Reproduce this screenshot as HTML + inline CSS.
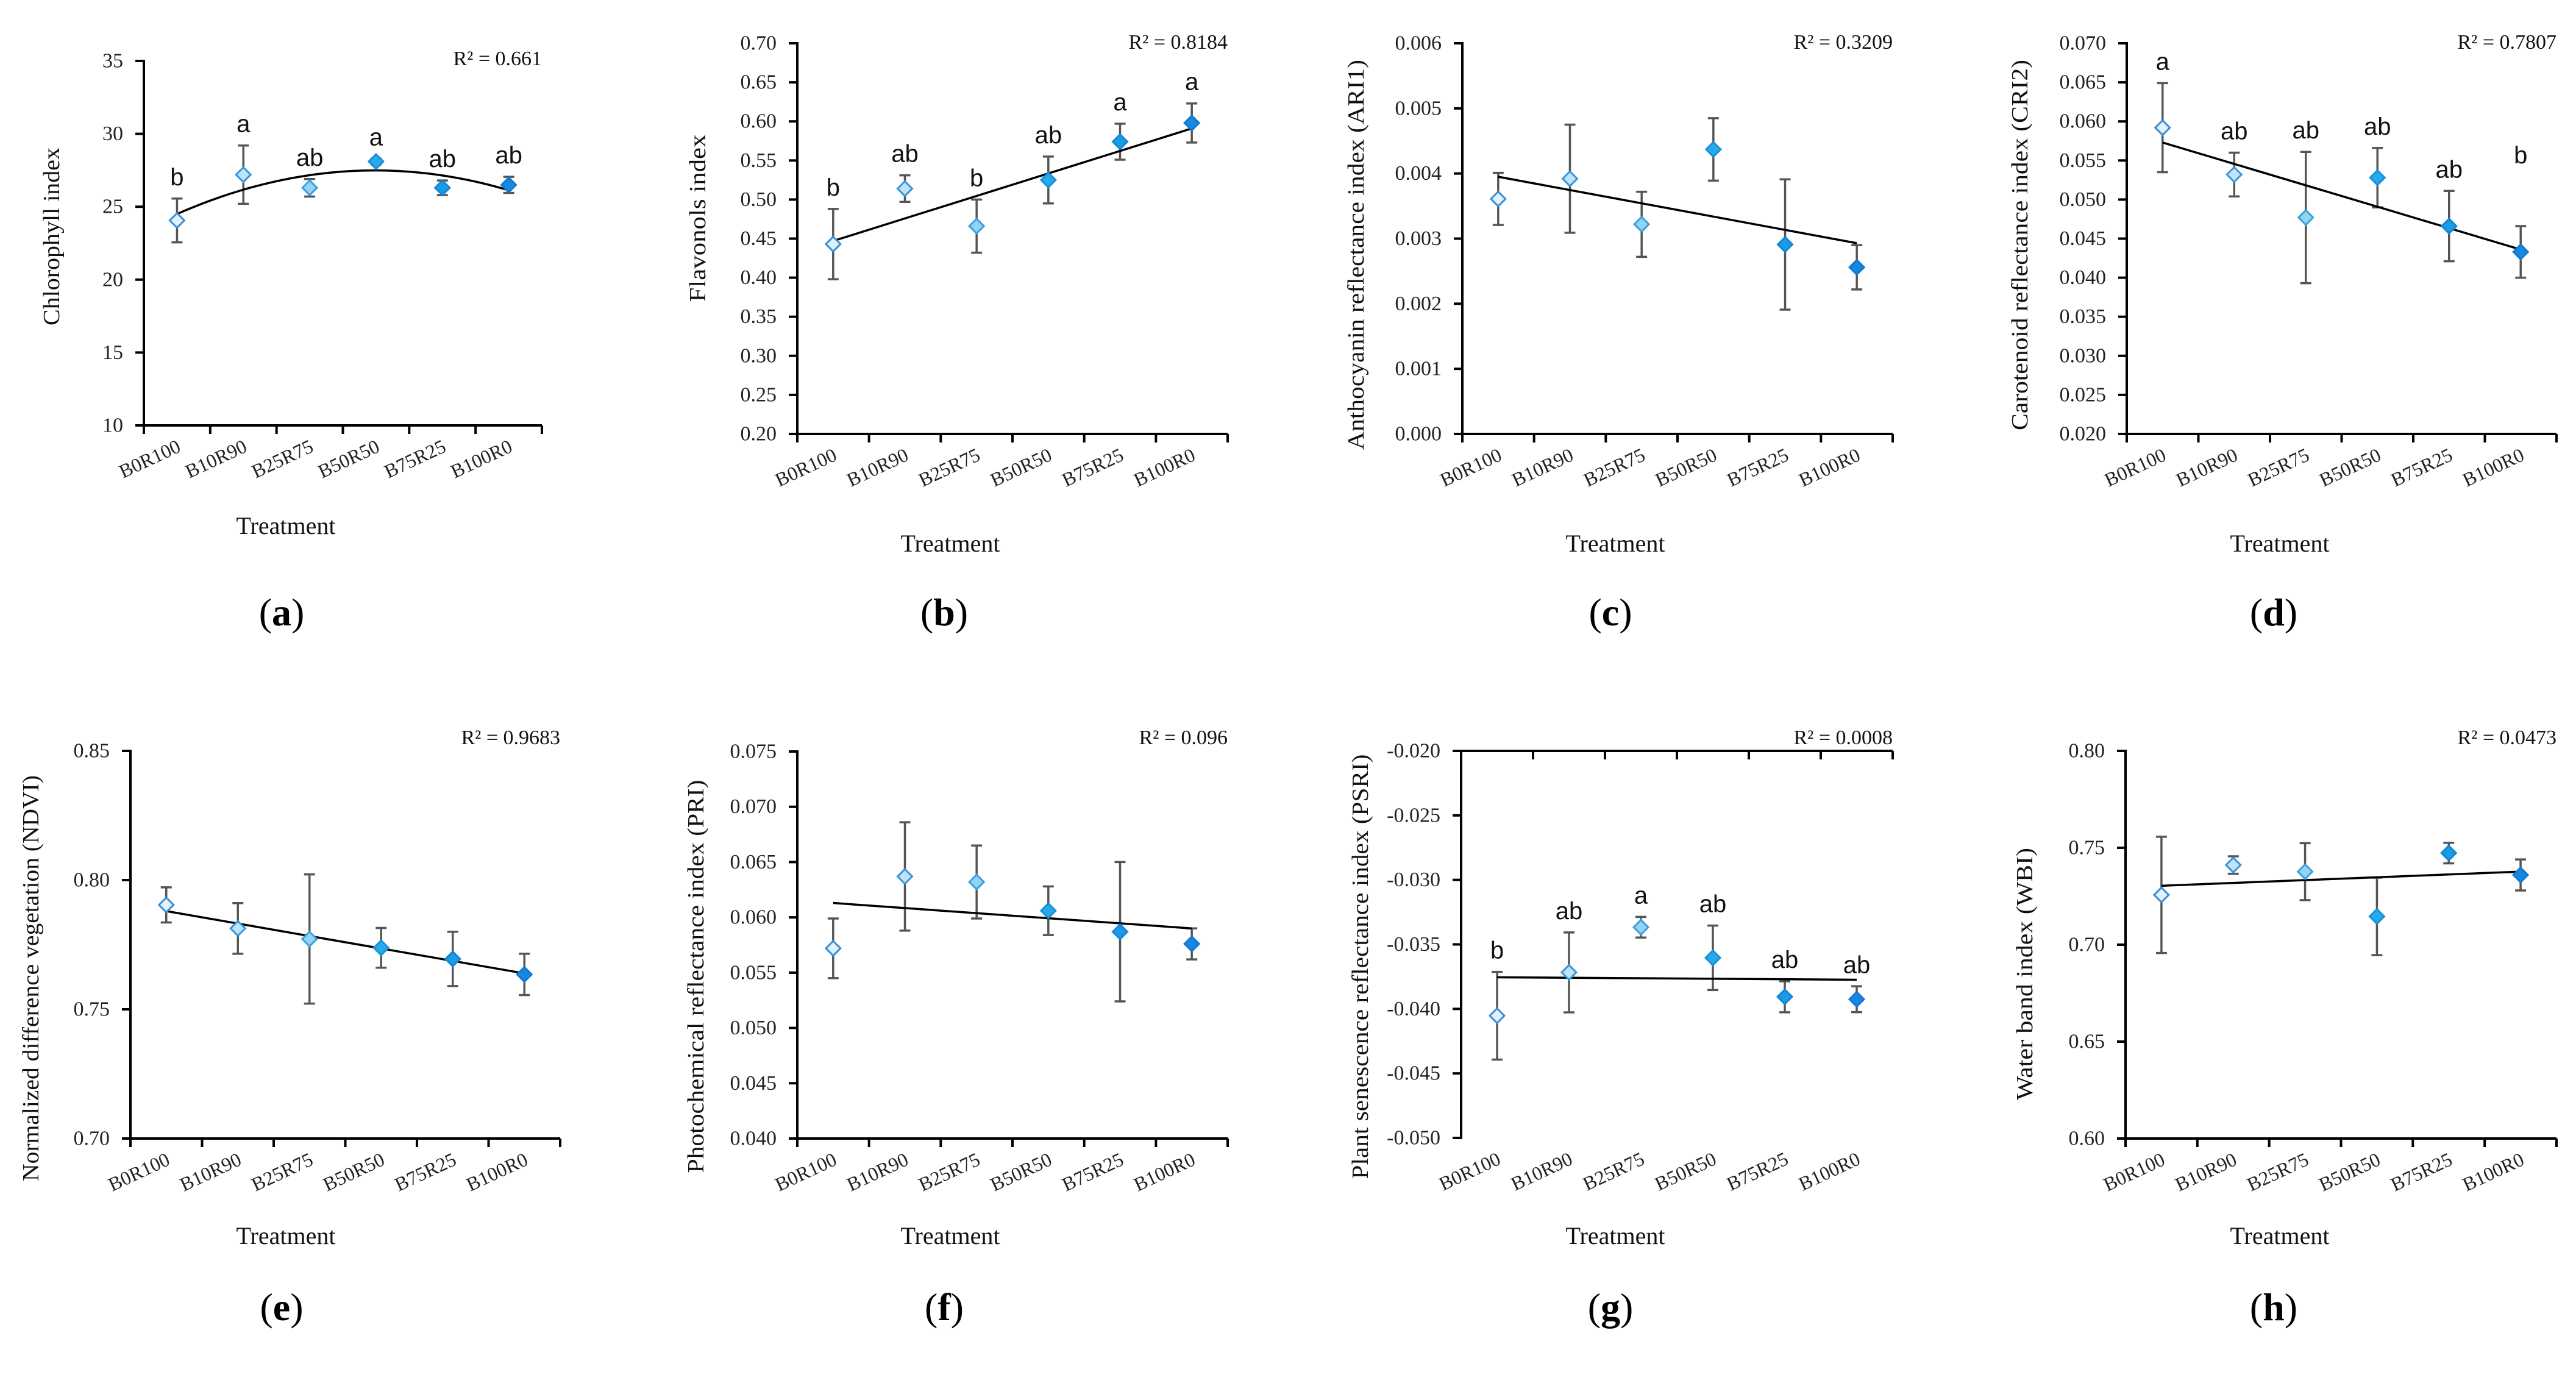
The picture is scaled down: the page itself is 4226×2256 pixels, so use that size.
<!DOCTYPE html>
<html><head><meta charset="utf-8"><title>Spectral indices by treatment</title>
<style>
html,body{margin:0;padding:0;background:#fff;}
svg{display:block;}
</style></head>
<body>
<svg id="fig" xmlns="http://www.w3.org/2000/svg" width="4226" height="2256" viewBox="0 0 4226 2256"></svg>
<script>
// ---------- data ----------
const categories = ["B0R100","B10R90","B25R75","B50R50","B75R25","B100R0"];

const aMeans = [24.06, 27.2, 26.3, 28.1, 26.3, 26.5];
const aErrs = [1.5, 2.0, 0.6, 0.2, 0.5, 0.55];
const aTrend = [24.5, 26.2, 27.1, 27.5, 27.2, 26.1];
const aLetters = ["b","a","ab","a","ab","ab"];
const aTicks = [10,15,20,25,30,35];
const aTickLabels = ["10","15","20","25","30","35"];

const bMeans = [0.443, 0.514, 0.466, 0.525, 0.574, 0.598];
const bErrs = [0.045, 0.017, 0.034, 0.030, 0.023, 0.025];
const bTrend = [0.447, 0.591];
const bLetters = ["b","ab","b","ab","a","a"];
const bTicks = [0.20,0.25,0.30,0.35,0.40,0.45,0.50,0.55,0.60,0.65,0.70];
const bTickLabels = ["0.20","0.25","0.30","0.35","0.40","0.45","0.50","0.55","0.60","0.65","0.70"];

const cMeans = [0.00361, 0.00392, 0.00322, 0.00437, 0.00291, 0.00256];
const cErrs = [0.0004, 0.00083, 0.0005, 0.00048, 0.001, 0.00034];
const cTrend = [0.00395, 0.00293];
const cLetters = ["","","","","",""];
const cTicks = [0,0.001,0.002,0.003,0.004,0.005,0.006];
const cTickLabels = ["0.000","0.001","0.002","0.003","0.004","0.005","0.006"];

const dMeans = [0.0592, 0.0532, 0.0477, 0.0528, 0.0466, 0.0433];
const dErrs = [0.0057, 0.0028, 0.0084, 0.0038, 0.0045, 0.0033];
const dTrend = [0.0573, 0.0436];
const dLetters = ["a","ab","ab","ab","ab","b"];
const dTicks = [0.020,0.025,0.030,0.035,0.040,0.045,0.050,0.055,0.060,0.065,0.070];
const dTickLabels = ["0.020","0.025","0.030","0.035","0.040","0.045","0.050","0.055","0.060","0.065","0.070"];

const eMeans = [0.7904, 0.7813, 0.7772, 0.7738, 0.7695, 0.7635];
const eErrs = [0.0068, 0.0098, 0.025, 0.0077, 0.0105, 0.008];
const eTrend = [0.788, 0.7639];
const eLetters = ["","","","","",""];
const eTicks = [0.70,0.75,0.80,0.85];
const eTickLabels = ["0.70","0.75","0.80","0.85"];

const fMeans = [0.0572, 0.0637, 0.0632, 0.0606, 0.0587, 0.0576];
const fErrs = [0.0027, 0.0049, 0.0033, 0.0022, 0.0063, 0.0014];
const fTrend = [0.0613, 0.0590];
const fLetters = ["","","","","",""];
const fTicks = [0.040,0.045,0.050,0.055,0.060,0.065,0.070,0.075];
const fTickLabels = ["0.040","0.045","0.050","0.055","0.060","0.065","0.070","0.075"];

const gMeans = [-0.04053, -0.03717, -0.03367, -0.03604, -0.03906, -0.03925];
const gErrs = [0.0034, 0.0031, 0.0008, 0.0025, 0.0012, 0.001];
const gTrend = [-0.03755, -0.03774];
const gLetters = ["b","ab","a","ab","ab","ab"];
const gTicks = [-0.050,-0.045,-0.040,-0.035,-0.030,-0.025,-0.020];
const gTickLabels = ["-0.050","-0.045","-0.040","-0.035","-0.030","-0.025","-0.020"];

const hMeans = [0.7257, 0.7411, 0.7377, 0.7146, 0.7473, 0.736];
const hErrs = [0.030, 0.0045, 0.0147, 0.020, 0.0053, 0.008];
const hTrend = [0.7304, 0.7377];
const hLetters = ["","","","","",""];
const hTicks = [0.60,0.65,0.70,0.75,0.80];
const hTickLabels = ["0.60","0.65","0.70","0.75","0.80"];

// ---------- rendering ----------
const NS = "http://www.w3.org/2000/svg";
const svg = document.getElementById("fig");
function mk(tag, attrs, parent){
  const e = document.createElementNS(NS, tag);
  for (const k in attrs) e.setAttribute(k, attrs[k]);
  (parent||svg).appendChild(e);
  return e;
}
const fills = ['#e2f1fc','#bfe3f8','#94d3f4','#27aae9','#1b9be6','#1688df'];
const strokes = ['#3a8ed6','#3a95d8','#3aa0dc','#1b8fd8','#1485d4','#1478d0'];
const SERIF = '"Liberation Serif", serif';
const SANS = '"Liberation Sans", sans-serif';

function drawPanel(id, L, means, errs, trend, letters, ticks, tickLabels, quad){
  const g = mk("g", {});
  
  
  const pw = L.x1 - L.x0;
  const xs = i => L.x0 + (i + 0.5) * pw / 6;
  const ys = v => L.y1 - (v - L.ymin) / (L.ymax - L.ymin) * (L.y1 - L.y0);

  // y title
  const yt = mk("text", {x: L.tx, y: L.ty, transform: `rotate(-90 ${L.tx} ${L.ty})`,
    "text-anchor":"middle", "dominant-baseline":"central", "font-family":SERIF, "font-size":38,
    fill:"#111", textLength:L.tl, lengthAdjust:"spacingAndGlyphs"}, g);
  yt.textContent = L.title;
  
  

  // axes
  const yAxis = mk("line", {x1:L.x0, y1:L.y0-2, x2:L.x0, y2:L.y1+2, stroke:"#000", "stroke-width":4}, g);
  
  
  const axY = L.xTop ? L.y0 : L.y1;
  const xAxis = mk("line", {x1:L.x0, y1:axY, x2:L.x1, y2:axY, stroke:"#000", "stroke-width":4}, g);
  
  
  for (let k = 0; k <= 6; k++){
    const tx = L.x0 + k * pw / 6;
    const t = mk("line", {x1:tx, y1:axY, x2:tx, y2:axY+14, stroke:"#000", "stroke-width":4}, g);
    
    
  }
  ticks.forEach((v, i) => {
    const y = ys(v);
    const t = mk("line", {x1:L.x0-14, y1:y, x2:L.x0, y2:y, stroke:"#000", "stroke-width":4}, g);
    
    
    const lb = mk("text", {x:L.x0-34, y:y, "text-anchor":"end", "dominant-baseline":"central",
      "font-family":SERIF, "font-size":34, fill:"#222"}, g);
    lb.textContent = tickLabels[i];
    
    
  });
  // category labels
  categories.forEach((c, i) => {
    const cx = xs(i) + 8, cy = L.y1 + 42;
    const lb = mk("text", {x:cx, y:cy, transform:`rotate(-25 ${cx} ${cy})`, "text-anchor":"end",
      "font-family":SERIF, "font-size":32, fill:"#222"}, g);
    lb.textContent = c;
    
    
  });
  // x title
  const xt = mk("text", {x:L.xtx, y:L.xty, "text-anchor":"middle", "font-family":SERIF, "font-size":40, fill:"#111"}, g);
  xt.textContent = "Treatment";
  
  

  // error bars
  means.forEach((m, i) => {
    const x = xs(i), yT = ys(m + errs[i]), yB = ys(m - errs[i]);
    const eb = mk("path", {d:`M${x},${yT}V${yB}M${x-9},${yT}H${x+9}M${x-9},${yB}H${x+9}`,
      stroke:"#555", "stroke-width":3.5, fill:"none"}, g);
    
    
  });
  // trend
  let d = "";
  if (quad){
    // least-squares quadratic through trend values
    const n = trend.length; let S=[0,0,0,0,0], T=[0,0,0];
    trend.forEach((v,i)=>{const x=i+1; for(let p=0;p<5;p++) S[p]+=Math.pow(x,p); for(let p=0;p<3;p++) T[p]+=v*Math.pow(x,p);});
    const M=[[S[0],S[1],S[2],T[0]],[S[1],S[2],S[3],T[1]],[S[2],S[3],S[4],T[2]]];
    for(let c=0;c<3;c++){for(let r=c+1;r<3;r++){const f=M[r][c]/M[c][c];for(let k=c;k<4;k++)M[r][k]-=f*M[c][k];}}
    const co=[0,0,0];
    for(let r=2;r>=0;r--){let s=M[r][3];for(let k=r+1;k<3;k++)s-=M[r][k]*co[k];co[r]=s/M[r][r];}
    for (let s = 0; s <= 50; s++){
      const xi = 1 + 5 * s / 50;
      const v = co[0] + co[1]*xi + co[2]*xi*xi;
      d += (s ? "L" : "M") + xs(xi-1).toFixed(1) + "," + ys(v).toFixed(1);
    }
  } else {
    d = `M${xs(0)},${ys(trend[0])}L${xs(5)},${ys(trend[1])}`;
  }
  const tr = mk("path", {d:d, stroke:"#000", "stroke-width":3.5, fill:"none"}, g);
  
  

  // markers
  means.forEach((m, i) => {
    const x = xs(i), y = ys(m), r = 12;
    const mkr = mk("path", {d:`M${x},${y-r}L${x+r},${y}L${x},${y+r}L${x-r},${y}Z`,
      fill:fills[i], stroke:strokes[i], "stroke-width":3}, g);
    
    
  });
  // letters
  letters.forEach((s, i) => {
    if (!s) return;
    let y = ys(means[i] + errs[i]) - 22;
    if (L.letterY && L.letterY[i]) y = L.letterY[i];
    const t = mk("text", {x:xs(i), y:y, "text-anchor":"middle", "font-family":SANS, "font-size":40, fill:"#111"}, g);
    t.textContent = s;
    
    
  });
  // R2
  const r2 = mk("text", {x:L.x1, y:L.r2y, "text-anchor":"end", "font-family":SERIF, "font-size":34, fill:"#111"}, g);
  r2.textContent = L.r2;
  
  
  // panel label
  const pl = mk("text", {x:L.plx, y:L.ply, "text-anchor":"middle", "font-family":SERIF, "font-size":64, fill:"#000"}, g);
  pl.appendChild(document.createTextNode("("));
  const b = mk("tspan", {"font-weight":"bold"}, pl); b.textContent = id;
  pl.appendChild(document.createTextNode(")"));
  
  
}

drawPanel("a", {x0:236,x1:889,y0:100,y1:698,ymin:10,ymax:35,title:"Chlorophyll index",tx:85,ty:388,tl:292,
  xtx:469,xty:876,r2:"R² = 0.661",r2y:107,plx:462,ply:1026}, aMeans,aErrs,aTrend,aLetters,aTicks,aTickLabels,true);
drawPanel("b", {x0:1308,x1:2014,y0:71,y1:712,ymin:0.20,ymax:0.70,title:"Flavonols index",tx:1145,ty:358,tl:275,
  xtx:1559,xty:905,r2:"R² = 0.8184",r2y:80,plx:1549,ply:1026}, bMeans,bErrs,bTrend,bLetters,bTicks,bTickLabels,false);
drawPanel("c", {x0:2399,x1:3105,y0:71,y1:712,ymin:0,ymax:0.006,title:"Anthocyanin reflectance index (ARI1)",tx:2225,ty:418,tl:640,
  xtx:2650,xty:905,r2:"R² = 0.3209",r2y:80,plx:2642,ply:1026}, cMeans,cErrs,cTrend,cLetters,cTicks,cTickLabels,false);
drawPanel("d", {x0:3489,x1:4194,y0:71,y1:712,ymin:0.020,ymax:0.070,title:"Carotenoid reflectance index (CRI2)",tx:3314,ty:402,tl:608,
  xtx:3740,xty:905,r2:"R² = 0.7807",r2y:80,plx:3730,ply:1026,letterY:[null,null,null,null,null,268]}, dMeans,dErrs,dTrend,dLetters,dTicks,dTickLabels,false);
drawPanel("e", {x0:214,x1:919,y0:1232,y1:1868,ymin:0.70,ymax:0.85,title:"Normalized difference vegetation (NDVI)",tx:51,ty:1605,tl:666,
  xtx:469,xty:2041,r2:"R² = 0.9683",r2y:1221,plx:462,ply:2166}, eMeans,eErrs,eTrend,eLetters,eTicks,eTickLabels,false);
drawPanel("f", {x0:1308,x1:2014,y0:1233,y1:1868,ymin:0.040,ymax:0.075,title:"Photochemical reflectance index (PRI)",tx:1142,ty:1602,tl:645,
  xtx:1559,xty:2041,r2:"R² = 0.096",r2y:1221,plx:1549,ply:2166}, fMeans,fErrs,fTrend,fLetters,fTicks,fTickLabels,false);
drawPanel("g", {x0:2397,x1:3105,y0:1232,y1:1867,ymin:-0.050,ymax:-0.020,xTop:true,title:"Plant senescence reflectance index (PSRI)",tx:2232,ty:1586,tl:697,
  xtx:2650,xty:2041,r2:"R² = 0.0008",r2y:1221,plx:2642,ply:2166}, gMeans,gErrs,gTrend,gLetters,gTicks,gTickLabels,false);
drawPanel("h", {x0:3487,x1:4194,y0:1232,y1:1868,ymin:0.60,ymax:0.80,title:"Water band index (WBI)",tx:3322,ty:1598,tl:414,
  xtx:3740,xty:2041,r2:"R² = 0.0473",r2y:1221,plx:3730,ply:2166}, hMeans,hErrs,hTrend,hLetters,hTicks,hTickLabels,false);
</script>
</body></html>
